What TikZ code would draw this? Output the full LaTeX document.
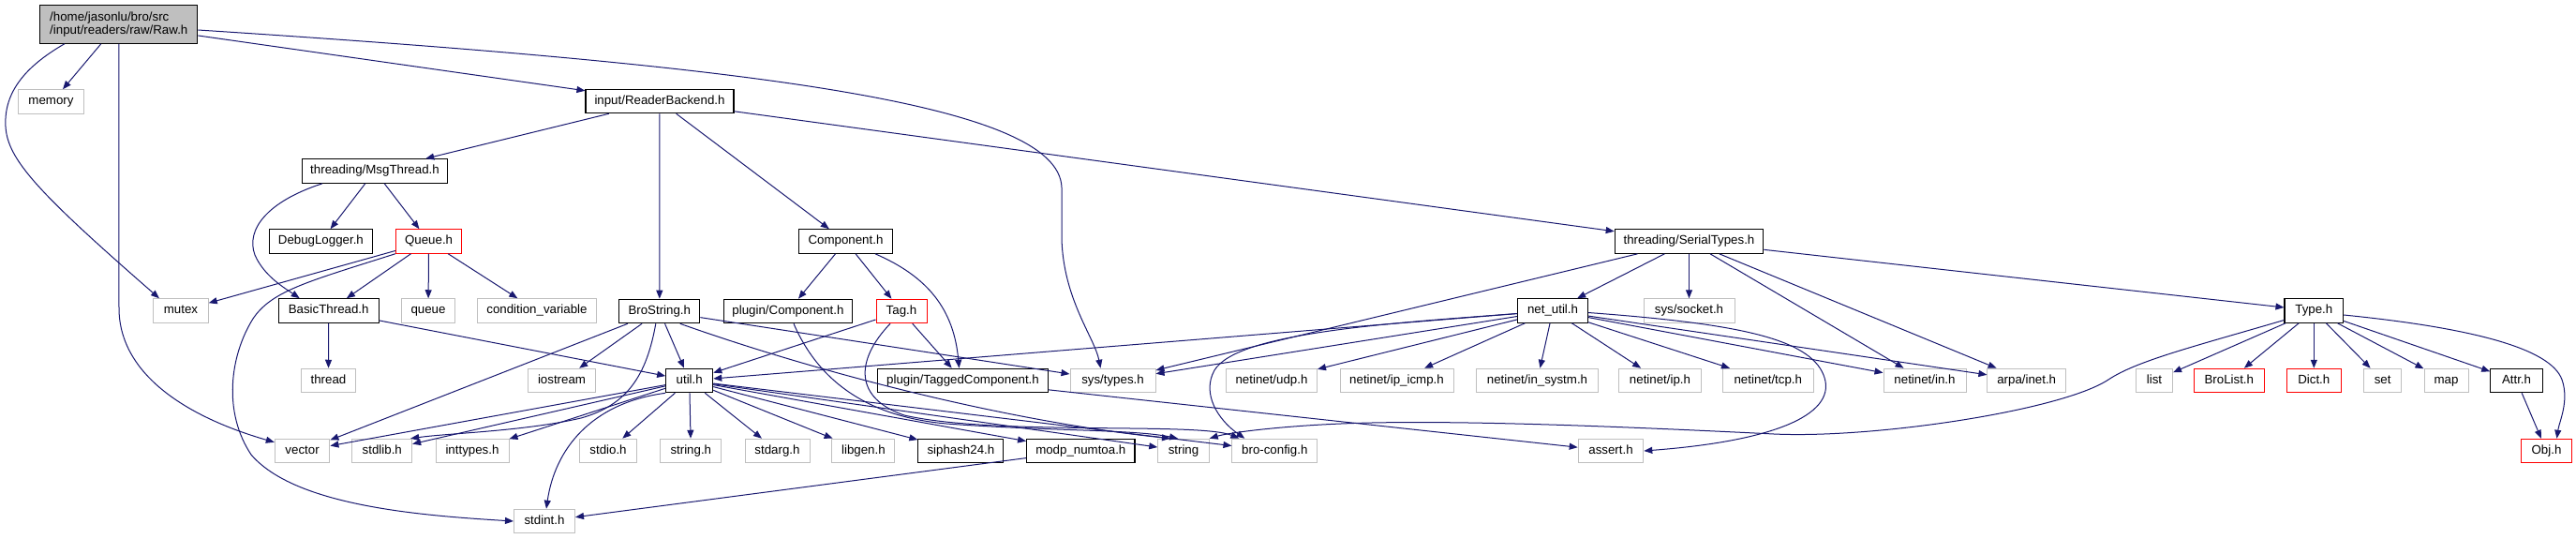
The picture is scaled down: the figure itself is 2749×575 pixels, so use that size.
\documentclass[tikz,border=0pt]{standalone}
\usepackage{fontspec}
\newfontfamily\labfont{Liberation Sans}
\usetikzlibrary{arrows.meta}
\definecolor{edgec}{HTML}{191970}
\definecolor{greyb}{HTML}{BFBFBF}
\definecolor{redb}{HTML}{FF0000}
\tikzset{
  nd/.style={draw=black, line width=1.1pt, fill=white, rectangle, inner xsep=0pt, inner ysep=0pt,
    minimum height=25.5pt, font=\labfont\fontsize{13.3}{14}\selectfont, text height=9.6pt, text depth=2.8pt},
  ext/.style={nd, draw=greyb, line width=1pt},
  trn/.style={nd, draw=redb, line width=1pt},
  rootnd/.style={draw=black, line width=1.1pt, fill=greyb, rectangle, align=left, inner xsep=10pt, inner ysep=0pt,
    minimum height=40.5pt, minimum width=168pt, font=\labfont\fontsize{13.3}{14}\selectfont},
  dep/.style={draw=edgec, line width=1pt, -{Triangle[length=9pt,width=7pt]}},
}
\begin{document}
\begin{tikzpicture}[x=1pt,y=-1pt]
\fill[white] (0,0) rectangle (2749,575);
\useasboundingbox (0,0) rectangle (2749,575);
% rank 0
\node[rootnd] (raw) at (126.8,26) {/home/jasonlu/bro/src\\/input/readers/raw/Raw.h};
% rank 1
\node[ext, minimum width=70pt] (memory) at (54.5,108.5) {memory};
\node[nd, minimum width=158pt] (rb) at (704,108) {input/ReaderBackend.h};
% rank 2
\node[nd, minimum width=155pt] (msg) at (400,182.5) {threading/MsgThread.h};
% rank 3
\node[nd, minimum width=110pt] (dbg) at (342.4,257.5) {DebugLogger.h};
\node[trn, minimum width=70.5pt] (queueh) at (457.6,257.5) {Queue.h};
\node[nd, minimum width=99.5pt] (comp) at (902.5,257.5) {Component.h};
\node[nd, minimum width=158.5pt] (ser) at (1802.5,257.5) {threading/SerialTypes.h};
% rank 4
\node[ext, minimum width=58.5pt] (mutex) at (193,331.5) {mutex};
\node[nd, minimum width=107pt] (bt) at (350.7,331.5) {BasicThread.h};
\node[ext, minimum width=57pt] (queue) at (457,331.5) {queue};
\node[ext, minimum width=127pt] (cv) at (573,331.5) {condition\_variable};
\node[nd, minimum width=86pt] (bs) at (703.8,332) {BroString.h};
\node[nd, minimum width=137.5pt] (pc) at (841,332) {plugin/Component.h};
\node[trn, minimum width=54pt] (tag) at (962,332) {Tag.h};
\node[nd, minimum width=74.5pt] (nu) at (1657,331.5) {net\_util.h};
\node[ext, minimum width=97pt] (sock) at (1802.5,331.5) {sys/socket.h};
\node[nd, minimum width=62.6pt] (type) at (2469.3,331.5) {Type.h};
% rank 5
\node[ext, minimum width=58.5pt] (thread) at (350.5,406) {thread};
\node[ext, minimum width=72pt] (ios) at (599.5,406) {iostream};
\node[nd, minimum width=50pt] (util) at (735.7,406) {util.h};
\node[nd, minimum width=181.7pt] (tc) at (1027.5,406) {plugin/TaggedComponent.h};
\node[ext, minimum width=91pt] (st) at (1187.5,406) {sys/types.h};
\node[ext, minimum width=97pt] (udp) at (1357,406) {netinet/udp.h};
\node[ext, minimum width=121pt] (icmp) at (1490.5,406) {netinet/ip\_icmp.h};
\node[ext, minimum width=130pt] (systm) at (1640.5,406) {netinet/in\_systm.h};
\node[ext, minimum width=87.7pt] (ip) at (1771.5,406) {netinet/ip.h};
\node[ext, minimum width=97pt] (tcp) at (1886.8,406) {netinet/tcp.h};
\node[ext, minimum width=88pt] (nin) at (2054,406) {netinet/in.h};
\node[ext, minimum width=83.6pt] (inet) at (2162.7,406) {arpa/inet.h};
\node[ext, minimum width=39pt] (list) at (2299,406) {list};
\node[trn, minimum width=75.5pt] (brolist) at (2378.8,406) {BroList.h};
\node[trn, minimum width=57.8pt] (dict) at (2469.3,406) {Dict.h};
\node[ext, minimum width=40pt] (set) at (2542.6,406) {set};
\node[ext, minimum width=47pt] (map) at (2610.5,406) {map};
\node[nd, minimum width=55.4pt] (attr) at (2685.5,406) {Attr.h};
% rank 6
\node[ext, minimum width=58.6pt] (vector) at (322.6,481) {vector};
\node[ext, minimum width=63.7pt] (stdlib) at (407.8,481) {stdlib.h};
\node[ext, minimum width=78pt] (inttypes) at (504,481) {inttypes.h};
\node[ext, minimum width=61pt] (stdio) at (649,481) {stdio.h};
\node[ext, minimum width=65pt] (stringh) at (737.3,481) {string.h};
\node[ext, minimum width=69pt] (stdarg) at (829.5,481) {stdarg.h};
\node[ext, minimum width=67pt] (libgen) at (921.4,481) {libgen.h};
\node[nd, minimum width=91pt] (sip) at (1025.4,481) {siphash24.h};
\node[nd, minimum width=115.4pt] (modp) at (1153.3,481) {modp\_numtoa.h};
\node[ext, minimum width=54.5pt] (string) at (1263,481) {string};
\node[ext, minimum width=90.7pt] (bc) at (1360.3,481) {bro-config.h};
\node[ext, minimum width=69.6pt] (assert) at (1719,481) {assert.h};
\node[trn, minimum width=54pt] (obj) at (2717.5,481) {Obj.h};
% rank 7
\node[ext, minimum width=65pt] (stdint) at (581,556) {stdint.h};

% edges from Raw.h
\draw[dep] ([xshift=-19pt]raw.south) -- ([xshift=12.5pt]memory.north);
\draw[dep] (raw) -- (rb);
\draw[dep] ([xshift=-58pt]raw.south) .. controls (25,72) and (4,100) .. (6,135) .. controls (8,170) and (40,205) .. ([xshift=-23pt]mutex.north);
\draw[dep] (raw.south) -- (127,330) .. controls (128,400) and (200,445) .. ([yshift=-4pt]vector.north west);
\draw[dep] ([yshift=-6pt]raw.east) .. controls (800,70) and (1130,110) .. (1133,200) -- (1133,255) .. controls (1135,320) and (1168,360) .. ([xshift=-13pt]st.north);
% input/ReaderBackend.h
\draw[dep] (rb) -- (msg);
\draw[dep] (rb) -- (bs);
\draw[dep] (rb) -- (comp);
\draw[dep] (rb) -- (ser);
% MsgThread
\draw[dep] (msg) -- (dbg);
\draw[dep] (msg) -- (queueh);
\draw[dep] ([xshift=-56pt]msg.south) .. controls (285,215) and (262,245) .. (272,272) .. controls (282,295) and (305,308) .. ([xshift=-31pt]bt.north);
% Queue.h
\draw[dep] (queueh) -- (mutex);
\draw[dep] (queueh) -- (bt);
\draw[dep] (queueh) -- (queue);
\draw[dep] (queueh) -- (cv);
\draw[dep] (queueh.south west) .. controls (330,300) and (290,310) .. (270,340) .. controls (245,380) and (238,440) .. (268,485) .. controls (315,540) and (450,550) .. (stdint.west);
% BasicThread
\draw[dep] (bt) -- (thread);
\draw[dep] (bt) -- (util);
% BroString
\draw[dep] (bs) -- (vector);
\draw[dep] (bs) -- (ios);
\draw[dep] (bs) -- (util);
\draw[dep] (bs) -- (st);
\draw[dep] ([xshift=-4pt]bs.south) .. controls (690,400) and (670,432) .. (620,446) .. controls (560,460) and (480,462) .. ([xshift=-2pt]stdlib.north east);
\draw[dep] ([xshift=22pt]bs.south) .. controls (880,400) and (1080,450) .. ([xshift=-14pt]string.north);
% Component.h
\draw[dep] (comp) -- (pc);
\draw[dep] (comp) -- (tag);
\draw[dep] ([xshift=31.5pt]comp.south) .. controls (990,295) and (1018,330) .. ([xshift=-4pt]tc.north);
% plugin/Component.h
\draw[dep] ([xshift=6pt]pc.south) .. controls (875,410) and (930,445) .. (1010,452) .. controls (1120,460) and (1210,458) .. ([xshift=-6pt]string.north);
% Tag.h
\draw[dep] (tag) -- (util);
\draw[dep] (tag) -- (tc);
\draw[dep] ([xshift=-12pt]tag.south) .. controls (912,385) and (912,425) .. (965,443) .. controls (1060,465) and (1280,450) .. ([xshift=-38pt]bc.north);
% TaggedComponent
\draw[dep] (tc) -- (assert);
% SerialTypes
\draw[dep] (ser) -- (st);
\draw[dep] (ser) -- (nu);
\draw[dep] (ser) -- (sock);
\draw[dep] (ser) -- (nin);
\draw[dep] (ser) -- (inet);
\draw[dep] (ser) -- (type);
% net_util
\draw[dep] (nu) -- (util);
\draw[dep] (nu) -- (st);
\draw[dep] (nu) -- (udp);
\draw[dep] (nu) -- (icmp);
\draw[dep] (nu) -- (systm);
\draw[dep] (nu) -- (ip);
\draw[dep] (nu) -- (tcp);
\draw[dep] (nu) -- (nin);
\draw[dep] (nu) -- (inet);
\draw[dep] ([yshift=-3pt]nu.west) .. controls (1480,345) and (1320,355) .. (1296,395) .. controls (1282,420) and (1300,448) .. ([xshift=-32pt]bc.north);
\draw[dep] ([yshift=-2pt]nu.east) .. controls (1850,345) and (1930,360) .. (1946,400) .. controls (1962,440) and (1900,470) .. (assert.east);
% Type.h
\draw[dep] (type) -- (list);
\draw[dep] (type) -- (brolist);
\draw[dep] (type) -- (dict);
\draw[dep] (type) -- (set);
\draw[dep] (type) -- (map);
\draw[dep] (type) -- (attr);
\draw[dep] ([yshift=-4.5pt]type.east) .. controls (2640,350) and (2722,372) .. (2734,405) .. controls (2742,428) and (2731,450) .. ([xshift=11pt]obj.north);
\draw[dep] ([yshift=-10pt]type.west) .. controls (2340,370) and (2280,385) .. (2250,405) .. controls (2200,438) and (2000,468) .. (1893,463) .. controls (1750,456) and (1550,447) .. (1431,452) .. controls (1360,455) and (1310,462) .. (string.north east);
\draw[dep] (attr) -- (obj);
% util.h
\draw[dep] (util) -- (vector);
\draw[dep] (util) -- (stdlib);
\draw[dep] (util) -- (inttypes);
\draw[dep] (util) -- (stdio);
\draw[dep] (util) -- (stringh);
\draw[dep] (util) -- (stdarg);
\draw[dep] (util) -- (libgen);
\draw[dep] (util) -- (sip);
\draw[dep] (util) -- (modp);
\draw[dep] (util) -- (string);
\draw[dep] (util) -- (bc);
\draw[dep] (util.south west) .. controls (630,430) and (592,480) .. ([xshift=2pt]stdint.north);
% modp
\draw[dep] (modp) -- (stdint);
\end{tikzpicture}
\end{document}
